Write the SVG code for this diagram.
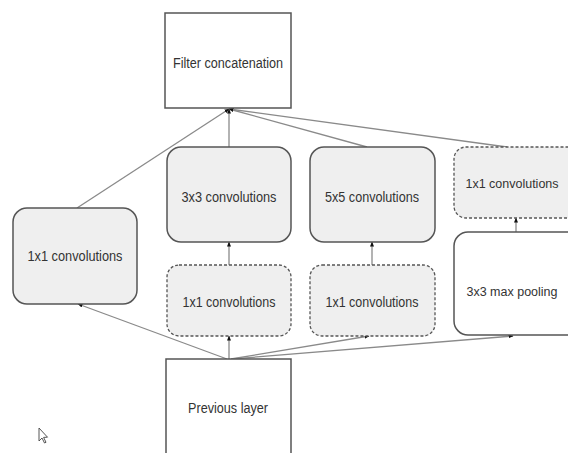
<svg xmlns="http://www.w3.org/2000/svg" width="568" height="453" viewBox="0 0 568 453">
<style>
.plain{fill:#ffffff;stroke:#555;stroke-width:1.5}
.conv{fill:#efefef;stroke:#555;stroke-width:1.5}
.dash{fill:#efefef;stroke:#555;stroke-width:1.3;stroke-dasharray:3 2}
text{font-family:"Liberation Sans",Arial,sans-serif;font-size:14px;fill:#333;text-anchor:middle}
.sm{font-size:12.5px}
.c{stroke:#8a8a8a;stroke-width:1.3;fill:none;marker-end:url(#ah)}
</style>
<defs>
<marker id="ah" viewBox="0 0 10 10" refX="9" refY="5" markerWidth="5" markerHeight="5" orient="auto" markerUnits="userSpaceOnUse">
<path d="M0,1 L10,5 L0,9 z" fill="#111"/>
</marker>
</defs>
<rect width="568" height="453" fill="#ffffff"/>
<g id="connectors">
<line class="c" x1="229" y1="147" x2="229" y2="109"/>
<line class="c" x1="77" y1="208" x2="229" y2="109"/>
<line class="c" x1="367" y1="147" x2="229" y2="109"/>
<line class="c" x1="507" y1="147" x2="229" y2="109"/>
<line class="c" x1="229" y1="265" x2="229" y2="242"/>
<line class="c" x1="372" y1="265" x2="372" y2="242"/>
<line class="c" x1="516" y1="232" x2="516" y2="218"/>
<line class="c" x1="227" y1="359" x2="78" y2="304"/>
<line class="c" x1="229" y1="359" x2="229" y2="336"/>
<line class="c" x1="231" y1="359" x2="369" y2="336"/>
<line class="c" x1="232" y1="359" x2="513" y2="336"/>
</g>
<g id="filter">
<rect class="plain" x="165" y="13" width="126" height="95"/>
<text x="228" y="68" textLength="110" lengthAdjust="spacingAndGlyphs">Filter concatenation</text>
</g>
<g id="conv1x1-left">
<rect class="conv" x="13" y="208" width="124" height="96" rx="14"/>
<text x="75" y="261" textLength="95" lengthAdjust="spacingAndGlyphs">1x1 convolutions</text>
</g>
<g id="conv3x3">
<rect class="conv" x="167" y="147" width="124" height="95" rx="14"/>
<text x="229" y="202" textLength="95" lengthAdjust="spacingAndGlyphs">3x3 convolutions</text>
</g>
<g id="conv5x5">
<rect class="conv" x="310" y="147" width="125" height="95" rx="14"/>
<text x="372" y="202" textLength="94" lengthAdjust="spacingAndGlyphs">5x5 convolutions</text>
</g>
<g id="conv1x1-a">
<rect class="dash" x="167" y="265" width="124" height="71" rx="12"/>
<text x="229" y="307" textLength="93" lengthAdjust="spacingAndGlyphs">1x1 convolutions</text>
</g>
<g id="conv1x1-b">
<rect class="dash" x="310" y="265" width="125" height="71" rx="12"/>
<text x="372" y="307" textLength="93" lengthAdjust="spacingAndGlyphs">1x1 convolutions</text>
</g>
<g id="conv1x1-right">
<path class="dash" d="M568.5,147 H466 A12,12 0 0 0 454,159 V206 A12,12 0 0 0 466,218 H568.5"/>
<text class="sm" x="512" y="188">1x1 convolutions</text>
</g>
<g id="maxpool">
<path class="plain" d="M568.5,232 H468 A14,14 0 0 0 454,246 V321 A14,14 0 0 0 468,335 H568.5"/>
<text class="sm" x="512" y="296">3x3 max pooling</text>
</g>
<g id="previous">
<rect class="plain" x="166" y="359" width="125" height="110"/>
<text x="228" y="413" textLength="80" lengthAdjust="spacingAndGlyphs">Previous layer</text>
</g>
<g id="cursor">
<path d="M39,428 L39,441 L42,438 L44.5,443 L46,442.3 L43.6,437.4 L47.5,437.2 Z" fill="#fff" stroke="#444" stroke-width="0.9" stroke-linejoin="round"/>
</g>
</svg>
